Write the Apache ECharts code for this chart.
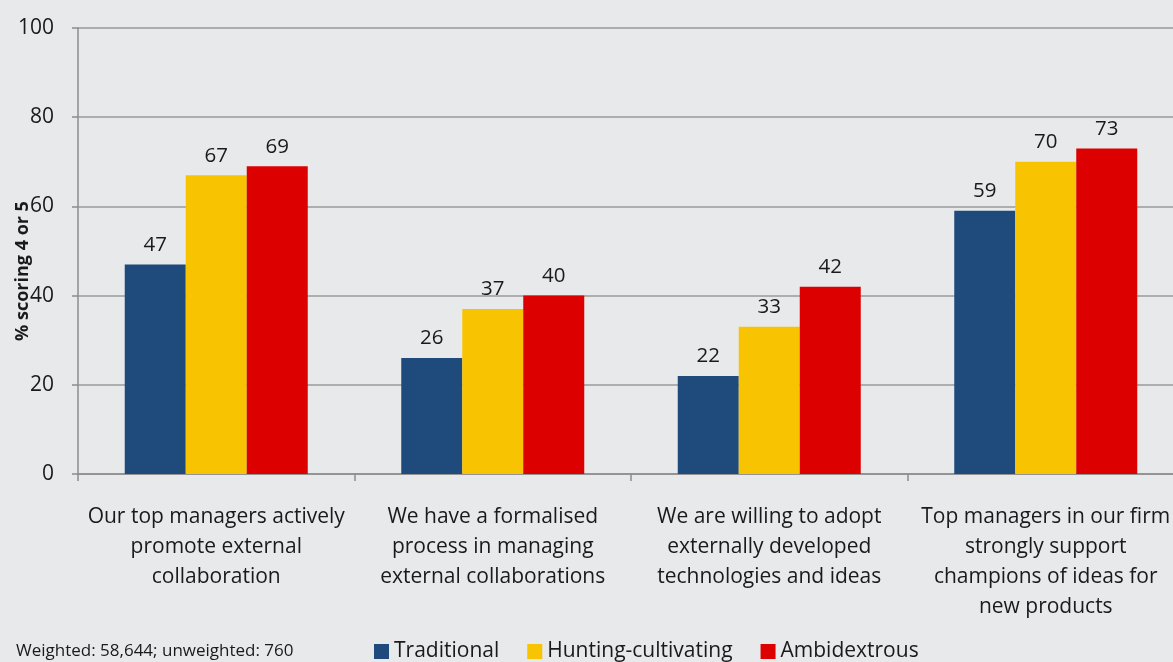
<!DOCTYPE html>
<html>
<head>
<meta charset="utf-8">
<script src="https://cdn.jsdelivr.net/npm/echarts@6/dist/echarts.min.js"></script>
<style>
  html, body { margin: 0; padding: 0; background: #e8e9eb; }
  #chart { width: 1173px; height: 662px; }
</style>
</head>
<body>
<div id="chart"></div>
<script>
// categories (x axis)
const categories = [
  'Our top managers actively\npromote external\ncollaboration',
  'We have a formalised\nprocess in managing\nexternal collaborations',
  'We are willing to adopt\nexternally developed\ntechnologies and ideas',
  'Top managers in our firm\nstrongly support\nchampions of ideas for\nnew products'
]
// % scoring 4 or 5
const traditional = [47, 26, 22, 59]
const huntingCultivating = [67, 37, 33, 70]
const ambidextrous = [69, 40, 42, 73]
const yTicks = [0, 20, 40, 60, 80, 100]

const font = '"Open Sans", sans-serif'
const textColor = '#1a1a1a'

function makeSeries(name, data, color) {
  return {
    name: name,
    type: 'bar',
    data: data,
    barWidth: 61,
    barGap: '0%',
    itemStyle: { color: color },
    label: {
      show: true,
      position: 'top',
      distance: 9,
      color: textColor,
      fontFamily: font,
      fontSize: 20.5
    }
  }
}

const chart = echarts.init(document.getElementById('chart'))
chart.setOption({
  backgroundColor: '#e8e9eb',
  animation: false,
  title: {
    text: 'Weighted: 58,644; unweighted: 760',
    left: 11,
    top: 638,
    textStyle: { fontFamily: font, fontSize: 17, fontWeight: 'normal', color: textColor }
  },
  legend: {
    left: 369,
    top: 636,
    icon: 'rect',
    itemWidth: 15,
    itemHeight: 15,
    itemGap: 28,
    textStyle: { fontFamily: font, fontSize: 21, color: textColor }
  },
  graphic: [{
    type: 'text',
    x: 23,
    y: 271,
    rotation: Math.PI / 2,
    style: {
      text: '% scoring 4 or 5',
      fontFamily: font,
      fontSize: 18,
      fontWeight: 'bold',
      fill: textColor,
      align: 'center',
      verticalAlign: 'middle'
    }
  }],
  grid: { left: 78, right: -11, top: 28, bottom: 188, outerBoundsMode: 'none' },
  xAxis: {
    type: 'category',
    data: categories,
    axisLine: { lineStyle: { color: '#8c8c8c', width: 1.5 } },
    axisTick: { show: true, length: 7, lineStyle: { color: '#8c8c8c', width: 1.5 } },
    axisLabel: {
      interval: 0,
      margin: 28,
      lineHeight: 30,
      color: textColor,
      fontFamily: font,
      fontSize: 21
    }
  },
  yAxis: {
    type: 'value',
    min: yTicks[0],
    max: yTicks[yTicks.length - 1],
    interval: 20,
    axisLine: { show: true, lineStyle: { color: '#8c8c8c', width: 1.5 } },
    axisTick: { show: true, length: 6, lineStyle: { color: '#8c8c8c', width: 1.5 } },
    splitLine: { lineStyle: { color: '#9a9a9a', width: 1.5 } },
    axisLabel: { margin: 24, color: textColor, fontFamily: font, fontSize: 21 }
  },
  series: [
    makeSeries('Traditional', traditional, '#1f4a7c'),
    makeSeries('Hunting-cultivating', huntingCultivating, '#f8c300'),
    makeSeries('Ambidextrous', ambidextrous, '#dc0000')
  ]
})
</script>
</body>
</html>
